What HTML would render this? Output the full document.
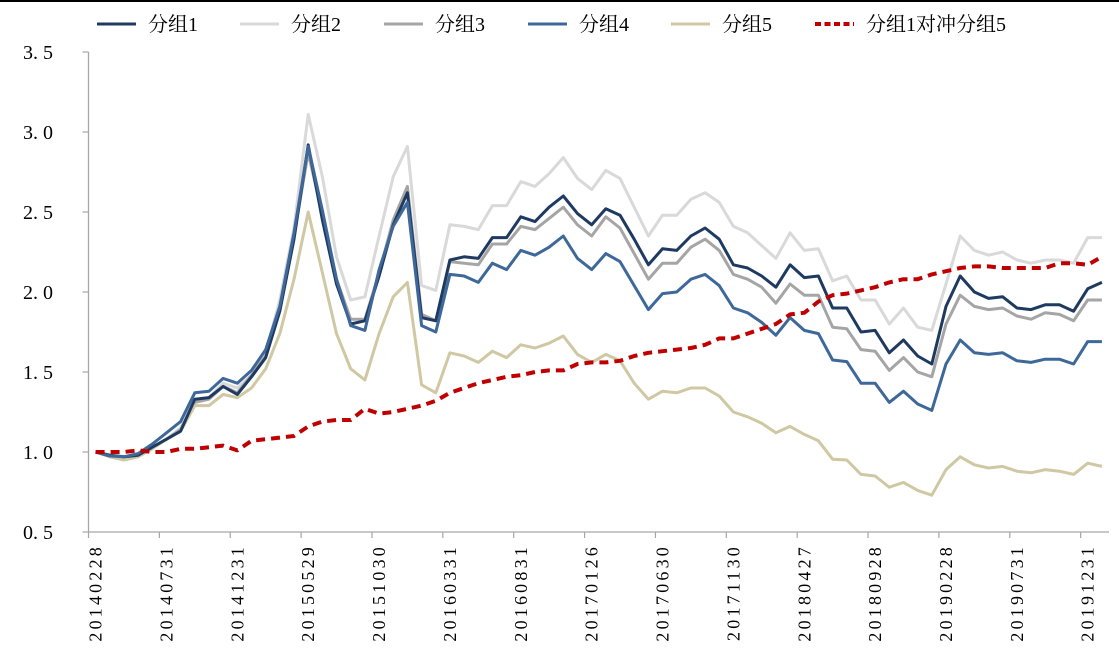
<!DOCTYPE html>
<html><head><meta charset="utf-8">
<style>
html,body{margin:0;padding:0;background:#fff;}
svg{display:block;}
text{font-family:"Liberation Serif","Noto Serif CJK SC",serif;}
</style></head>
<body>
<svg id="chart" width="1119" height="657" viewBox="0 0 1119 657" xmlns="http://www.w3.org/2000/svg">
<rect x="0" y="0" width="1119" height="2" fill="#000"/>
<g id="grid"></g>
<g id="series"></g>
<g id="legend"></g>
</svg>
<script>
const categories = ["20140228","20140331","20140430","20140530","20140630","20140731","20140829","20140930","20141031","20141128","20141231","20150130","20150227","20150331","20150430","20150529","20150630","20150731","20150831","20150930","20151030","20151130","20151231","20160129","20160229","20160331","20160429","20160531","20160630","20160729","20160831","20160930","20161031","20161130","20161230","20170126","20170228","20170331","20170428","20170531","20170630","20170731","20170831","20170929","20171031","20171130","20171229","20180131","20180228","20180330","20180427","20180531","20180629","20180731","20180831","20180928","20181031","20181130","20181228","20190131","20190228","20190329","20190430","20190531","20190628","20190731","20190830","20190930","20191031","20191129","20191231","20200123"];
const group1 = [1.0,0.98,0.97,0.98,1.03,1.08,1.13,1.33,1.34,1.41,1.36,1.47,1.59,1.88,2.33,2.92,2.45,2.05,1.80,1.82,2.10,2.42,2.62,1.84,1.82,2.20,2.22,2.21,2.34,2.34,2.47,2.44,2.53,2.60,2.49,2.42,2.52,2.48,2.33,2.17,2.27,2.26,2.35,2.40,2.33,2.17,2.15,2.10,2.03,2.17,2.09,2.10,1.90,1.90,1.75,1.76,1.62,1.70,1.60,1.55,1.91,2.10,2.00,1.96,1.97,1.90,1.89,1.92,1.92,1.88,2.02,2.06];
const group2 = [1.0,0.98,0.96,0.98,1.03,1.08,1.15,1.32,1.34,1.43,1.40,1.48,1.62,1.95,2.40,3.11,2.72,2.22,1.95,1.97,2.35,2.72,2.91,2.04,2.01,2.42,2.41,2.39,2.54,2.54,2.69,2.66,2.74,2.84,2.71,2.64,2.76,2.71,2.53,2.35,2.48,2.48,2.58,2.62,2.56,2.41,2.37,2.29,2.21,2.37,2.26,2.27,2.07,2.10,1.95,1.95,1.80,1.90,1.78,1.76,2.05,2.35,2.26,2.23,2.25,2.20,2.18,2.20,2.20,2.18,2.34,2.34];
const group3 = [1.0,0.98,0.96,0.98,1.03,1.08,1.14,1.31,1.33,1.41,1.37,1.48,1.60,1.90,2.35,2.87,2.48,2.08,1.83,1.83,2.12,2.45,2.66,1.86,1.82,2.19,2.18,2.17,2.30,2.30,2.41,2.39,2.46,2.53,2.42,2.35,2.47,2.40,2.24,2.08,2.18,2.18,2.28,2.33,2.26,2.11,2.08,2.03,1.93,2.05,1.98,1.98,1.78,1.77,1.64,1.63,1.51,1.59,1.50,1.47,1.80,1.98,1.91,1.89,1.90,1.85,1.83,1.87,1.86,1.82,1.95,1.95];
const group4 = [1.0,0.975,0.97,0.99,1.05,1.12,1.19,1.37,1.38,1.46,1.43,1.51,1.64,1.91,2.37,2.91,2.51,2.08,1.79,1.76,2.14,2.41,2.56,1.79,1.75,2.11,2.10,2.06,2.18,2.14,2.26,2.23,2.28,2.35,2.21,2.14,2.24,2.19,2.04,1.89,1.99,2.00,2.08,2.11,2.04,1.90,1.87,1.81,1.73,1.84,1.76,1.74,1.575,1.565,1.43,1.43,1.31,1.38,1.30,1.26,1.55,1.70,1.62,1.61,1.62,1.57,1.56,1.58,1.58,1.55,1.69,1.69];
const group5 = [1.0,0.97,0.95,0.97,1.02,1.08,1.13,1.29,1.29,1.36,1.34,1.40,1.52,1.74,2.08,2.50,2.12,1.74,1.52,1.45,1.74,1.97,2.06,1.42,1.37,1.62,1.60,1.56,1.63,1.59,1.67,1.65,1.68,1.725,1.61,1.56,1.61,1.57,1.43,1.33,1.38,1.37,1.40,1.40,1.35,1.25,1.22,1.18,1.12,1.16,1.11,1.07,0.955,0.95,0.86,0.85,0.78,0.81,0.76,0.73,0.89,0.97,0.92,0.90,0.91,0.88,0.87,0.89,0.88,0.86,0.93,0.91];
const hedge = [1.0,1.0,1.0,1.01,1.0,1.0,1.02,1.02,1.03,1.04,1.01,1.07,1.08,1.09,1.10,1.16,1.19,1.20,1.20,1.27,1.24,1.25,1.27,1.29,1.32,1.37,1.40,1.43,1.45,1.47,1.48,1.50,1.51,1.51,1.55,1.56,1.56,1.57,1.60,1.62,1.63,1.64,1.65,1.67,1.71,1.71,1.74,1.77,1.80,1.86,1.87,1.94,1.98,1.99,2.01,2.03,2.06,2.08,2.08,2.11,2.13,2.15,2.16,2.16,2.15,2.15,2.15,2.15,2.18,2.18,2.17,2.22];
const yTicks = ["0. 5","1. 0","1. 5","2. 0","2. 5","3. 0","3. 5"];
const yTickValues = [0.5,1.0,1.5,2.0,2.5,3.0,3.5];
const xLabelEvery = 5;

const NS = "http://www.w3.org/2000/svg";
const plotLeft = 88.5, plotRight = 1109, yTop = 52, yBottom = 532;
const n = categories.length;
const step = (plotRight - plotLeft) / n;
function xScale(i){ return plotLeft + step * (i + 0.5); }
function yScale(v){ return yBottom - (v - 0.5) / 3.0 * (yBottom - yTop); }
function mk(tag, attrs, parent){
  const e = document.createElementNS(NS, tag);
  for (const k in attrs) e.setAttribute(k, attrs[k]);
  parent.appendChild(e);
  return e;
}
const grid = document.getElementById('grid');
const axisY = mk('line',{x1:plotLeft,y1:yTop,x2:plotLeft,y2:yBottom,stroke:'#a6a6a6','stroke-width':1.3},grid);


const axisX = mk('line',{x1:plotLeft,y1:yBottom,x2:plotRight,y2:yBottom,stroke:'#a6a6a6','stroke-width':1.3},grid);


yTickValues.forEach((v,k)=>{
  const y = yScale(v);
  const t = mk('line',{x1:plotLeft-6,y1:y,x2:plotLeft,y2:y,stroke:'#a6a6a6','stroke-width':1.2},grid);
  
  
  const l = mk('text',{x:38,y:y+7,'text-anchor':'middle','font-size':20,fill:'#000'},grid);
  l.textContent = yTicks[k];
  
  
});
for (let i=0;i<n;i+=xLabelEvery){
  const xb = plotLeft + step*i;
  const t = mk('line',{x1:xb,y1:yBottom,x2:xb,y2:yBottom+6,stroke:'#a6a6a6','stroke-width':1.2},grid);
  
  
  const xc = xScale(i) + 6;
  const l = mk('text',{x:xc,y:yBottom+12,'font-size':18,fill:'#000','text-anchor':'end','letter-spacing':'3.2',transform:`rotate(-90 ${xc} ${yBottom+12})`},grid);
  l.textContent = categories[i];
  
  
}
const seriesG = document.getElementById('series');
const seriesDefs = [
  {name:'分组1', data:group1, color:'#1f3a60', width:3, dash:null, key:'group1'},
  {name:'分组2', data:group2, color:'#d9d9d9', width:3, dash:null, key:'group2'},
  {name:'分组3', data:group3, color:'#a5a5a5', width:3, dash:null, key:'group3'},
  {name:'分组4', data:group4, color:'#3d6899', width:3, dash:null, key:'group4'},
  {name:'分组5', data:group5, color:'#cfc8a3', width:3, dash:null, key:'group5'},
  {name:'分组1对冲分组5', data:hedge, color:'#c00000', width:4, dash:'9,6', key:'hedge'}
];
const drawOrder = [1,2,4,0,3,5];
drawOrder.forEach(si=>{
  const s = seriesDefs[si];
  const pts = s.data.map((v,i)=>xScale(i).toFixed(1)+','+yScale(v).toFixed(1)).join(' ');
  const a = {points:pts,fill:'none',stroke:s.color,'stroke-width':s.width,'stroke-linejoin':'round'};
  if (s.dash) a['stroke-dasharray']=s.dash;
  const p = mk('polyline',a,seriesG);
  
  
});
const legend = document.getElementById('legend');
const legX = [97,240,384,528,671,815];
seriesDefs.forEach((s,k)=>{
  const g = mk('g',{},legend);
  
  
  const a = {x1:legX[k],y1:24,x2:legX[k]+39,y2:24,stroke:s.color,'stroke-width':s.width};
  if (s.dash) a['stroke-dasharray']='6,3.5';
  mk('line',a,g);
  const t = mk('text',{x:legX[k]+51,y:31,'font-size':20,fill:'#000'},g);
  t.textContent = s.name;
});
</script>
</body></html>
